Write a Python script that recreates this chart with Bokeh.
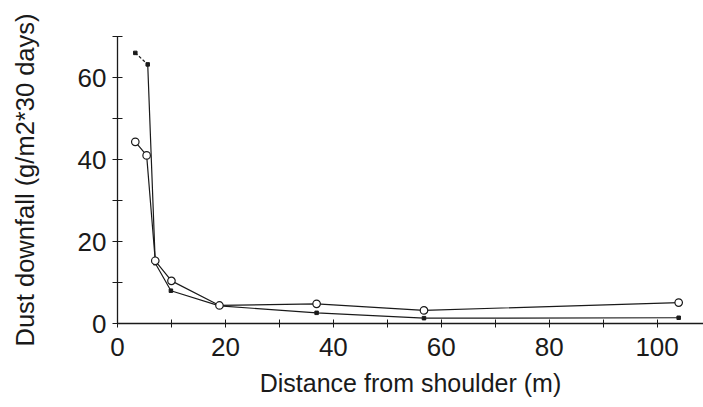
from bokeh.plotting import figure
from bokeh.models import Range1d, FixedTicker
from bokeh.embed import file_html
from bokeh.resources import INLINE

# distance from shoulder (m)
dist_a = [3.3, 5.6, 7.0, 9.9, 18.9, 36.9, 56.8, 104.0]
dust_a = [66.0, 63.2, 14.7, 8.0, 4.3, 2.6, 1.3, 1.4]

dist_b = [3.3, 5.4, 7.0, 10.0, 18.9, 36.9, 56.8, 104.0]
dust_b = [44.3, 41.0, 15.3, 10.4, 4.4, 4.8, 3.2, 5.1]

x_ticks = [0, 20, 40, 60, 80, 100]
y_ticks = [0, 20, 40, 60]

FONT = "Liberation Sans"
INK = "#1a1a1a"

p = figure(width=703, height=407, output_backend="svg", toolbar_location=None,
           x_range=Range1d(0, 108.6), y_range=Range1d(0, 70),
           min_border_left=117, min_border_right=0, min_border_top=36,
           min_border_bottom=84)
p.outline_line_color = None
p.grid.visible = False
p.background_fill_color = "white"
p.border_fill_color = "white"

# series A: filled squares, first segment dotted
p.line(dist_a[:2], dust_a[:2], line_color=INK, line_width=1.2, line_dash="3 2")
p.line(dist_a[1:], dust_a[1:], line_color=INK, line_width=1.2)
p.scatter(dist_a, dust_a, marker="square", size=3.5, fill_color=INK, line_color=INK)

# series B: open circles
p.line(dist_b, dust_b, line_color=INK, line_width=1.2)
p.scatter(dist_b, dust_b, marker="circle", size=7.5, fill_color="white",
          line_color=INK, line_width=1.2)

p.xaxis.ticker = FixedTicker(ticks=x_ticks, minor_ticks=[10, 30, 50, 70, 90])
p.yaxis.ticker = FixedTicker(ticks=y_ticks, minor_ticks=[10, 30, 50, 70])

for ax in (p.xaxis, p.yaxis):
    ax.axis_line_color = INK
    ax.axis_line_width = 1.3
    ax.major_tick_line_color = INK
    ax.minor_tick_line_color = INK
    ax.major_label_text_font = FONT
    ax.major_label_text_font_size = "26px"
    ax.major_label_text_color = INK
    ax.axis_label_text_font = FONT
    ax.axis_label_text_font_style = "normal"
    ax.axis_label_text_color = INK

p.xaxis.axis_label_text_font_size = "25px"
p.yaxis.axis_label_text_font_size = "25.5px"

p.xaxis.major_tick_in = 4
p.xaxis.major_tick_out = 4
p.xaxis.minor_tick_in = 4
p.xaxis.minor_tick_out = 4
p.yaxis.major_tick_in = 5
p.yaxis.major_tick_out = 5
p.yaxis.minor_tick_in = 5
p.yaxis.minor_tick_out = 5

p.xaxis.major_label_standoff = 10
p.yaxis.major_label_standoff = 6
p.xaxis.axis_label = "Distance from shoulder (m)"
p.yaxis.axis_label = "Dust downfall (g/m2*30 days)"
p.xaxis.axis_label_standoff = 10
p.yaxis.axis_label_standoff = 36

open("out.html", "w").write(file_html(p, INLINE))
